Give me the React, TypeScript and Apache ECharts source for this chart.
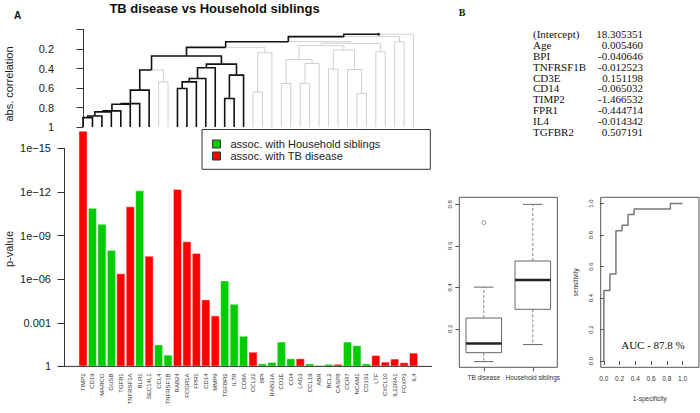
import React, { useEffect, useRef } from 'react';
import * as echarts from 'echarts';

const SANS = 'Liberation Sans, Arial, Helvetica, sans-serif';
const SERIF = 'Liberation Serif, Times New Roman, serif';

// ---------- Panel A data ----------
const genes = ['TIMP2', 'CD19', 'MARCO', 'GUSB', 'TGFB1', 'TNFRSF1A', 'BLR1', 'SEC14L1', 'CCL4', 'TNFRSF1B',
  'RAB24', 'FCGR1A', 'FPR1', 'CD14', 'MMP9', 'TGFBR2', 'IL7R', 'CD8A', 'CCL22', 'BPI', 'RAB33A', 'CD3E', 'CD4',
  'LAG3', 'CCL19', 'ABR', 'BCL2', 'CASP8', 'CCR7', 'NCAM1', 'CD163', 'LTF', 'CXCL10', 'IL22RA1', 'FOXP3', 'IL4'];
// -log10(p)
const negLog10P = [16.2, 10.9, 9.8, 8.0, 6.4, 11.0, 12.1, 7.6, 1.5, 0.8,
  12.2, 8.6, 7.8, 4.6, 3.5, 5.9, 4.3, 2.1, 1.0, 0.2, 0.3, 1.7, 0.55,
  0.55, 0.2, 0.08, 0.17, 0.17, 1.7, 1.45, 0.2, 0.78, 0.32, 0.53, 0.28, 0.94];
// H = household siblings, T = TB disease
const assoc = ['T', 'H', 'H', 'H', 'T', 'T', 'H', 'T', 'H', 'H',
  'T', 'T', 'T', 'T', 'T', 'H', 'H', 'H', 'T', 'H', 'H', 'H', 'H',
  'T', 'H', 'H', 'H', 'T', 'H', 'H', 'H', 'T', 'T', 'T', 'T', 'T'];
const pTickLabels = ['1', '0.001', '1e\u221206', '1e\u221209', '1e\u221212', '1e\u221215'];
const legendNames = ['assoc. with Household siblings', 'assoc. with TB disease'];

// dendrogram: leaf highlight (1 = black) and merges [left, right, abs.correlation height, highlighted]
// references: negative = leaf (1-based), positive = earlier merge (1-based)
const leafHighlight = [1, 1, 1, 1, 1, 1, 1, 1, 0, 0, 1, 1, 1, 1, 1, 1, 1, 1, 0, 0, 0, 0, 0, 0, 0, 0, 0, 0, 0, 0, 0, 0, 0, 0, 0, 0];
const mergeLeft = [-1, 1, 2, 3, 4, 5, 6, -9, 7, -11, 10, 11, 12, -16, 14, 13, 9, -19, 18, 17, -22, -24, 22, 21, -27, -30, -29, 25, 24, -32, 29, 20, -34, 32, 34];
const mergeRight = [-2, -3, -4, -5, -6, -7, -8, -10, 8, -12, -13, -14, -15, -17, -18, 15, 16, -20, -21, 19, -23, -25, -26, 23, -28, -31, 26, 27, 28, -33, 30, 31, -35, 33, -36];
const mergeHeight = [0.904, 0.887, 0.845, 0.835, 0.767, 0.76, 0.622, 0.537, 0.416, 0.605, 0.537, 0.502, 0.392, 0.708, 0.468, 0.355, 0.272, 0.64, 0.238, 0.183,
  0.554, 0.554, 0.348, 0.307, 0.406, 0.657, 0.41, 0.21, 0.166, 0.228, 0.142, 0.125, 0.125, 0.073, 0.049];
const mergeHighlight = [1, 1, 1, 1, 1, 1, 1, 0, 1, 1, 1, 1, 1, 1, 1, 1, 1, 0, 0, 1, 0, 0, 0, 0, 0, 0, 0, 0, 0, 0, 0, 1, 0, 1, 1];

// ---------- Panel B data ----------
const coefNames = ['(Intercept)', 'Age', 'BPI', 'TNFRSF1B', 'CD3E', 'CD14', 'TIMP2', 'FPR1', 'IL4', 'TGFBR2'];
const coefValues = [18.305351, 0.00546, -0.040646, -0.012523, 0.151198, -0.065032, -1.466532, -0.444714, -0.014342, 0.507191];

const boxGroups = ['TB disease', 'Household siblings'];
const boxMin = [0.042, 0.124];
const boxQ1 = [0.085, 0.294];
const boxMedian = [0.129, 0.435];
const boxQ3 = [0.252, 0.527];
const boxMax = [0.401, 0.8];
const outlierGroup = [0];
const outlierValue = [0.712];

const rocFpr = [0, 0, 0.077, 0.077, 0.154, 0.154, 0.231, 0.231, 0.308, 0.308, 0.385, 0.385, 0.846, 0.846, 1.0];
const rocTpr = [0, 0.448, 0.448, 0.552, 0.552, 0.828, 0.828, 0.862, 0.862, 0.931, 0.931, 0.966, 0.966, 1.0, 1.0];
const aucText = 'AUC - 87.8 %';

type Node = { x: number; h: number; hi: number };

function buildTree() {
  const nodes: Node[] = [];
  const get = (r: number): Node =>
    r < 0 ? { x: -r - 1, h: 1, hi: leafHighlight[-r - 1] } : nodes[r - 1];
  for (let i = 0; i < mergeLeft.length; i++) {
    const l = get(mergeLeft[i]);
    const r = get(mergeRight[i]);
    nodes.push({ x: (l.x + r.x) / 2, h: mergeHeight[i], hi: mergeHighlight[i] });
  }
  const edges: { parent: Node; child: Node }[] = [];
  for (let i = 0; i < mergeLeft.length; i++) {
    edges.push({ parent: nodes[i], child: get(mergeLeft[i]) });
    edges.push({ parent: nodes[i], child: get(mergeRight[i]) });
  }
  return { nodes, edges };
}

export default function App() {
  const ref = useRef<HTMLDivElement>(null);
  useEffect(() => {
    const chart = echarts.init(ref.current!, null, { renderer: 'svg' });
    const { nodes, edges } = buildTree();
    const grayEdges = edges.filter((e) => !e.child.hi);
    const blackEdges = edges.filter((e) => e.child.hi);
    const root = nodes[nodes.length - 1];

    const edgeRender = (list: typeof edges, color: string, width: number) =>
      (params: any, api: any) => {
        const e = list[params.dataIndex];
        const p1 = api.coord([e.parent.x, e.parent.h]);
        const p2 = api.coord([e.child.x, e.parent.h]);
        const p3 = api.coord([e.child.x, e.child.h]);
        return {
          type: 'polyline',
          shape: { points: [p1, p2, p3] },
          style: { stroke: color, lineWidth: width, fill: 'none' },
        };
      };

    const greenData = negLog10P.map((v, i) => (assoc[i] === 'H' ? v : '-'));
    const redData = negLog10P.map((v, i) => (assoc[i] === 'T' ? v : '-'));

    const smallLabel = { fontFamily: SANS, fontSize: 6, color: '#333' };

    const graphics: any[] = [
      { type: 'text', x: 214.5, y: 8.5, style: { text: 'TB disease vs Household siblings', fontFamily: SANS, fontSize: 13, fontWeight: 'bold', fill: '#111', align: 'center', verticalAlign: 'middle', textAlign: 'center', textVerticalAlign: 'middle' } },
      { type: 'text', x: 17.5, y: 15, style: { text: 'A', fontFamily: SANS, fontSize: 10, fontWeight: 'bold', fill: '#111', align: 'center', verticalAlign: 'middle', textAlign: 'center', textVerticalAlign: 'middle' } },
      { type: 'text', x: 462, y: 12, style: { text: 'B', fontFamily: SERIF, fontSize: 10, fontWeight: 'bold', fill: '#111', align: 'center', verticalAlign: 'middle', textAlign: 'center', textVerticalAlign: 'middle' } },
      { type: 'text', x: 9, y: 84, rotation: Math.PI / 2, style: { text: 'abs. correlation', fontFamily: SANS, fontSize: 11, fill: '#222', align: 'center', verticalAlign: 'middle', textAlign: 'center', textVerticalAlign: 'middle' } },
      { type: 'text', x: 9, y: 249, rotation: Math.PI / 2, style: { text: 'p-value', fontFamily: SANS, fontSize: 11, fill: '#222', align: 'center', verticalAlign: 'middle', textAlign: 'center', textVerticalAlign: 'middle' } },
      { type: 'text', x: 653, y: 345, style: { text: aucText, fontFamily: SERIF, fontSize: 11, fill: '#111', align: 'center', verticalAlign: 'middle', textAlign: 'center', textVerticalAlign: 'middle' } },
    ];
    coefNames.forEach((n, k) => {
      graphics.push({ type: 'text', x: 533, y: 34.3 + k * 10.8, style: { text: n, fontFamily: SERIF, fontSize: 11, fill: '#111', align: 'left', verticalAlign: 'middle', textAlign: 'left', textVerticalAlign: 'middle' } });
      graphics.push({ type: 'text', x: 643, y: 34.3 + k * 10.8, style: { text: coefValues[k].toFixed(6), fontFamily: SERIF, fontSize: 11, fill: '#111', align: 'right', verticalAlign: 'middle', textAlign: 'right', textVerticalAlign: 'middle' } });
    });

    const option: any = {
      animation: false,
      backgroundColor: '#fff',
      textStyle: { fontFamily: SANS },
      grid: [
        { left: 78.3, width: 340, top: 29.5, height: 97.5 },
        { left: 78.3, width: 340, top: 148.3, height: 218.1 },
        { left: 459.3, width: 98, top: 197.3, height: 170, show: true, borderColor: '#555', borderWidth: 1, backgroundColor: 'transparent' },
        { left: 600.7, width: 98.3, top: 197.3, height: 170, show: true, borderColor: '#555', borderWidth: 1, backgroundColor: 'transparent' },
      ],
      xAxis: [
        { gridIndex: 0, type: 'value', min: -0.5, max: 35.5, show: false },
        {
          gridIndex: 1, type: 'category', data: genes,
          axisLine: { show: false }, axisTick: { show: false },
          axisLabel: { ...smallLabel, rotate: 90, interval: 0, margin: 7 },
        },
        {
          gridIndex: 2, type: 'category', data: boxGroups,
          axisLine: { show: false },
          axisTick: { show: true, length: 4, alignWithLabel: true, interval: 0, lineStyle: { color: '#555' } },
          axisLabel: { ...smallLabel, fontSize: 6.5, margin: 7, interval: 0, hideOverlap: false },
        },
        {
          gridIndex: 3, type: 'value', min: -0.04, max: 1.21,
          axisLine: { show: false }, splitLine: { show: false },
          axisTick: { show: true, length: 4, customValues: [0, 0.2, 0.4, 0.6, 0.8, 1.0], lineStyle: { color: '#555' } },
          axisLabel: { ...smallLabel, fontSize: 6.5, margin: 8, customValues: [0, 0.2, 0.4, 0.6, 0.8, 1.0], formatter: (v: number) => v.toFixed(1) },
          name: '1-specificity', nameLocation: 'middle', nameGap: 28,
          nameTextStyle: { ...smallLabel, fontSize: 6.5 },
        },
      ],
      yAxis: [
        {
          gridIndex: 0, type: 'value', inverse: true, min: 0, max: 1, interval: 0.2, offset: 14.3,
          splitLine: { show: false },
          axisLine: { show: true, lineStyle: { color: '#333' } },
          axisTick: { show: true, length: 6.5, lineStyle: { color: '#333' } },
          axisLabel: {
            fontFamily: SANS, fontSize: 11, color: '#222', margin: 10,
            formatter: (v: number) => (v < 1e-9 ? '' : Math.abs(v - 1) < 1e-9 ? '1' : v.toFixed(1)),
          },
        },
        {
          gridIndex: 1, type: 'value', min: 0, max: 15, interval: 3, offset: 14.3,
          splitLine: { show: false },
          axisLine: { show: true, lineStyle: { color: '#333' } },
          axisTick: { show: true, length: 6.5, lineStyle: { color: '#333' } },
          axisLabel: {
            fontFamily: SANS, fontSize: 11, color: '#222', margin: 13,
            formatter: (v: number) => pTickLabels[Math.round(v / 3)] ?? '',
          },
        },
        {
          gridIndex: 2, type: 'value', min: 0.0145, max: 0.834,
          axisLine: { show: false }, splitLine: { show: false },
          axisTick: { show: true, length: 4, customValues: [0.2, 0.4, 0.6, 0.8], lineStyle: { color: '#555' } },
          axisLabel: { ...smallLabel, rotate: 90, margin: 6, customValues: [0.2, 0.4, 0.6, 0.8], formatter: (v: number) => v.toFixed(1) },
        },
        {
          gridIndex: 3, type: 'value', min: -0.04, max: 1.04,
          axisLine: { show: false }, splitLine: { show: false },
          axisTick: { show: true, length: 4, customValues: [0, 0.2, 0.4, 0.6, 0.8, 1.0], lineStyle: { color: '#555' } },
          axisLabel: { ...smallLabel, rotate: 90, margin: 7, customValues: [0, 0.2, 0.4, 0.6, 0.8, 1.0], formatter: (v: number) => v.toFixed(1) },
          name: 'sensitivity', nameLocation: 'middle', nameGap: 22, nameRotate: 90,
          nameTextStyle: { ...smallLabel, fontSize: 6.5 },
        },
      ],
      legend: {
        data: legendNames,
        orient: 'vertical', left: 202, top: 129.5,
        padding: [8.5, 50, 7.3, 10], itemGap: 0, itemWidth: 8, itemHeight: 8,
        icon: 'rect', borderColor: '#333', borderWidth: 1, backgroundColor: '#fff',
        itemStyle: { borderColor: '#333', borderWidth: 1 },
        textStyle: { fontFamily: SANS, fontSize: 11, color: '#222', lineHeight: 12, padding: [0, 0, 0, 5] },
        selectedMode: false,
      },
      series: [
        {
          type: 'custom', name: 'dendro-gray', xAxisIndex: 0, yAxisIndex: 0, silent: true,
          renderItem: edgeRender(grayEdges, '#cfcfcf', 1),
          data: grayEdges.map((_, i) => [i]), clip: false,
        },
        {
          type: 'custom', name: 'dendro-black', xAxisIndex: 0, yAxisIndex: 0, silent: true,
          renderItem: edgeRender(blackEdges, '#111', 1.6),
          data: blackEdges.map((_, i) => [i]), clip: false, z: 3,
        },
        {
          type: 'scatter', name: 'root', xAxisIndex: 0, yAxisIndex: 0, silent: true,
          data: [[root.x, root.h]], symbolSize: 3, itemStyle: { color: '#111' }, z: 4,
        },
        {
          type: 'bar', name: legendNames[0], xAxisIndex: 1, yAxisIndex: 1, data: greenData,
          barCategoryGap: '6%', barGap: '-100%', clip: false,
          itemStyle: { color: '#00cd00', borderColor: 'rgba(255,255,255,0.55)', borderWidth: 0.8 },
        },
        {
          type: 'bar', name: legendNames[1], xAxisIndex: 1, yAxisIndex: 1, data: redData,
          barCategoryGap: '6%', barGap: '-100%', clip: false,
          itemStyle: { color: '#ff0000', borderColor: 'rgba(255,255,255,0.55)', borderWidth: 0.8 },
        },
        {
          type: 'custom', name: 'box', xAxisIndex: 2, yAxisIndex: 2, silent: true,
          data: boxGroups.map((_, i) => [i, boxMin[i], boxQ1[i], boxMedian[i], boxQ3[i], boxMax[i]]),
          renderItem: (params: any, api: any) => {
            const i = api.value(0);
            const band = api.size([1, 0])[0];
            const half = band * 0.363;
            const cap = band * 0.2;
            const pMin = api.coord([i, api.value(1)]);
            const pQ1 = api.coord([i, api.value(2)]);
            const pMed = api.coord([i, api.value(3)]);
            const pQ3 = api.coord([i, api.value(4)]);
            const pMax = api.coord([i, api.value(5)]);
            const cx = pMed[0];
            const gray = '#666';
            return {
              type: 'group',
              children: [
                { type: 'line', shape: { x1: cx, y1: pQ3[1], x2: cx, y2: pMax[1] }, style: { stroke: '#888', lineWidth: 1, lineDash: [3, 2] } },
                { type: 'line', shape: { x1: cx, y1: pQ1[1], x2: cx, y2: pMin[1] }, style: { stroke: '#888', lineWidth: 1, lineDash: [3, 2] } },
                { type: 'line', shape: { x1: cx - cap, y1: pMax[1], x2: cx + cap, y2: pMax[1] }, style: { stroke: gray, lineWidth: 1 } },
                { type: 'line', shape: { x1: cx - cap, y1: pMin[1], x2: cx + cap, y2: pMin[1] }, style: { stroke: gray, lineWidth: 1 } },
                { type: 'rect', shape: { x: cx - half, y: pQ3[1], width: 2 * half, height: pQ1[1] - pQ3[1] }, style: { stroke: gray, fill: 'none', lineWidth: 1 } },
                { type: 'line', shape: { x1: cx - half, y1: pMed[1], x2: cx + half, y2: pMed[1] }, style: { stroke: '#222', lineWidth: 2.5 } },
              ],
            };
          },
        },
        {
          type: 'scatter', name: 'outliers', xAxisIndex: 2, yAxisIndex: 2, silent: true,
          data: outlierGroup.map((g, k) => [g, outlierValue[k]]),
          symbol: 'circle', symbolSize: 4,
          itemStyle: { color: '#fff', borderColor: '#555', borderWidth: 0.8 },
        },
        {
          type: 'line', name: 'roc', xAxisIndex: 3, yAxisIndex: 3, silent: true,
          data: rocFpr.map((f, k) => [f, rocTpr[k]]),
          showSymbol: false, symbol: 'none',
          lineStyle: { color: '#777', width: 1.5 },
        },
      ],
      graphic: graphics,
    };
    chart.setOption(option);

    const yBase = chart.convertToPixel({ yAxisIndex: 1 }, 0) as number;
    chart.setOption({
      graphic: [
        ...graphics,
        { id: 'baseline', type: 'line', shape: { x1: 58, y1: yBase, x2: 432, y2: yBase }, style: { stroke: '#333', lineWidth: 1 }, z: 10 },
      ],
    });

    return () => chart.dispose();
  }, []);
  return <div ref={ref} style={{ position: 'fixed', left: 0, top: 0, width: 700, height: 413 }} />;
}
